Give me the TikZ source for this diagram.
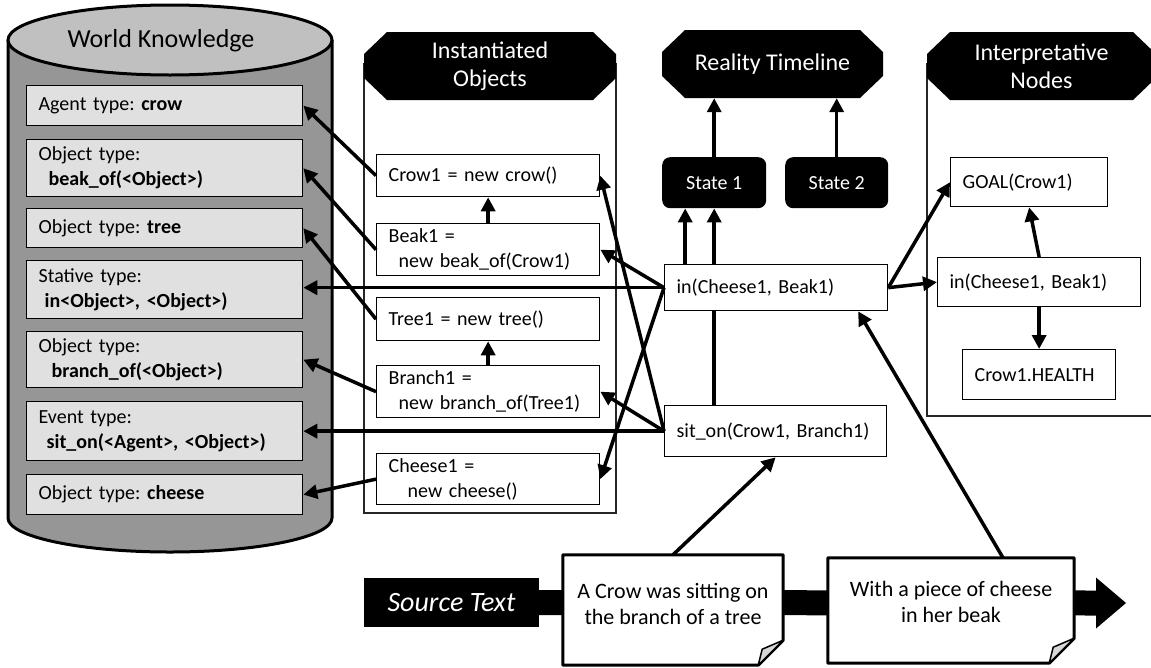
\documentclass[tikz,border=0pt]{standalone}
\usepackage{fontspec}
\setmainfont{Carlito}
\usetikzlibrary{arrows.meta,calc}

\definecolor{cylbody}{RGB}{150,150,150}
\definecolor{cyltop}{RGB}{192,192,192}
\definecolor{slot}{RGB}{224,224,224}
\definecolor{foldgray}{RGB}{215,215,215}

\begin{document}
\frenchspacing
\begin{tikzpicture}[x=1pt,y=-1pt,
  txt/.style={font=\fontsize{20}{25}\selectfont},
  basebox/.style={txt, draw, line width=1.3pt, anchor=north west,
    inner xsep=12pt, inner ysep=0pt, align=left},
  wkbox/.style={basebox, fill=slot, text width=252pt},
  ibox/.style={basebox, fill=white},
  stbox/.style={txt, fill=black, text=white, rounded corners=8pt,
    anchor=north west, minimum height=51pt, inner sep=0pt},
  hdr/.style={minimum width=#1, minimum height=68pt, inner sep=0pt,
    text=white, align=center, font=\fontsize{24}{28}\selectfont,
    path picture={
      \fill ([xshift=23pt]path picture bounding box.north west)
        -- ([xshift=-23pt]path picture bounding box.north east)
        -- ([yshift=-22pt]path picture bounding box.north east)
        -- ([yshift=22pt]path picture bounding box.south east)
        -- ([xshift=-23pt]path picture bounding box.south east)
        -- ([xshift=23pt]path picture bounding box.south west)
        -- ([yshift=22pt]path picture bounding box.south west)
        -- ([yshift=-22pt]path picture bounding box.north west) -- cycle;}},
  column/.style={draw=black!85, line width=1.3pt},
  conn/.style={line width=3.5pt, -{Triangle[length=14pt,width=14pt]}},
  notebase/.style={inner sep=0pt},
  notetext/.style={align=center, font=\fontsize{22}{26}\selectfont},
  noteline/.style={draw, fill=white, line width=3pt, line join=round},
  fold/.style={draw, fill=foldgray, line width=1.5pt, line join=round}
]
\useasboundingbox (0,0) rectangle (1151,667);
\clip (0,0) rectangle (1151,667);

% ---------- knowledge base cylinder ----------
\fill[cylbody] (8,40) -- (8,518)
  arc[start angle=180, end angle=360, x radius=162pt, y radius=34pt]
  -- (332,40) -- cycle;
\draw[line width=3pt] (8,40) -- (8,518)
  arc[start angle=180, end angle=360, x radius=162pt, y radius=34pt]
  -- (332,40);
\draw[fill=cyltop, line width=3pt] (170,40) ellipse[x radius=162pt, y radius=35pt];
\node[font=\fontsize{26}{30}\selectfont] (wktitle) at (161,41) {World Knowledge};

\node[wkbox, minimum height=40pt] (wk1) at (26,85) {Agent type: \textbf{crow}};
\node[wkbox, minimum height=57pt] (wk2) at (26,139) {Object type:\\\hspace*{10pt}\textbf{beak\_of(<Object>)}};
\node[wkbox, minimum height=39pt] (wk3) at (26,208) {Object type: \textbf{tree}};
\node[wkbox, minimum height=58pt] (wk4) at (26,260) {Stative type:\\\hspace*{6pt}\textbf{in<Object>, <Object>)}};
\node[wkbox, minimum height=56pt] (wk5) at (26,331) {Object type:\\\hspace*{13pt}\textbf{branch\_of(<Object>)}};
\node[wkbox, minimum height=59pt] (wk6) at (26,401) {Event type:\\\hspace*{8pt}\textbf{sit\_on(<Agent>, <Object>)}};
\node[wkbox, minimum height=40pt] (wk7) at (26,474) {Object type: \textbf{cheese}};

% ---------- instantiated objects ----------
\draw[column] (364,64) rectangle (616,513);
\node[hdr=252pt] (ioh) at (490,66) {Instantiated\\Objects};
\node[ibox, text width=199pt, minimum height=42pt] (crow1) at (376,154) {Crow1 = new crow()};
\node[ibox, text width=199pt, minimum height=52pt] (beak1) at (376,223) {Beak1 =\\\hspace*{10pt}new beak\_of(Crow1)};
\node[ibox, text width=199pt, minimum height=43pt] (tree1) at (376,297) {Tree1 = new tree()};
\node[ibox, text width=199pt, minimum height=52pt] (branch1) at (376,365) {Branch1 =\\\hspace*{10pt}new branch\_of(Tree1)};
\node[ibox, text width=199pt, minimum height=51pt] (cheese1) at (376,453) {Cheese1 =\\\hspace*{19pt}new cheese()};

% ---------- reality timeline ----------
\node[hdr=221pt] (rth) at (772.5,64) {Reality Timeline};
\node[stbox, minimum width=104pt] (stat1) at (662,157) {State 1};
\node[stbox, minimum width=103pt] (stat2) at (785,157) {State 2};
\node[ibox, text width=198pt, minimum height=51pt] (siton) at (664,405) {sit\_on(Crow1, Branch1)};
\draw[conn] (stat1.south |- siton.north) -- (stat1.south);
\node[ibox, text width=199pt, minimum height=46pt] (realin) at (664,264) {in(Cheese1, Beak1)};

% ---------- interpretative nodes ----------
\draw[column] (927,64) rectangle (1175,416);
\node[hdr=229pt] (inh) at (1041.5,66) {Interpretative\\Nodes};
\node[ibox, text width=133pt, minimum height=49pt] (goal) at (950,157) {GOAL(Crow1)};
\node[ibox, text width=179pt, minimum height=49pt] (interpin) at (937,257) {in(Cheese1, Beak1)};
\node[ibox, text width=129pt, minimum height=50pt] (health) at (962,349) {Crow1.HEALTH};

% ---------- links ----------
\draw[conn] (crow1.west) -- (wk1.east);
\draw[conn] (beak1.west) -- (wk2.east);
\draw[conn] (tree1.west) -- (wk3.east);
\draw[conn] (branch1.west) -- (wk5.east);
\draw[conn] (cheese1.west) -- (wk7.east);
\draw[conn] (beak1.north) -- (crow1.south);
\draw[conn] (branch1.north) -- (tree1.south);

\draw[conn] (realin.west) -- (realin.west -| wk4.east);
\draw[conn] (realin.west) -- (beak1.east);
\draw[conn] (realin.west) -- (cheese1.east);
\draw[conn] (siton.west) -- (siton.west -| wk6.east);
\draw[conn] (siton.west) -- (branch1.east);
\draw[conn] (siton.west) -- (crow1.east);

\draw[conn] (stat1.north) -- (stat1.north |- rth.south);
\draw[conn] (stat2.north) -- (stat2.north |- rth.south);
\coordinate (s1a) at ([xshift=-29pt]stat1.south);
\draw[conn] (s1a |- realin.north) -- (s1a);

\draw[conn] (realin.east) -- (goal.west);
\draw[conn] (realin.east) -- (interpin.west);
\draw[conn] (interpin.north) -- (goal.south);
\draw[conn] (interpin.south) -- (health.north);

% ---------- source text band ----------
\node[fill=black, text=white, minimum width=175pt, minimum height=49pt, inner sep=0pt,
  font=\fontsize{28}{32}\selectfont\itshape] (src) at (451.5,602.5) {Source Text};
\coordinate (tip) at (1126,603);
\fill ([yshift=12.5pt]src.east) -- ([xshift=-30pt,yshift=12.5pt]tip)
  -- ([xshift=-30pt,yshift=25.5pt]tip) -- (tip)
  -- ([xshift=-30pt,yshift=-25.5pt]tip) -- ([xshift=-30pt,yshift=-12.5pt]tip)
  -- ([yshift=-12.5pt]src.east) -- cycle;

\node[notebase, minimum width=220pt, minimum height=110pt] (n1) at (673,610) {};
\draw[noteline] (n1.north west) -- (n1.north east) -- ([yshift=25pt]n1.south east)
  -- ([xshift=-25pt]n1.south east) -- (n1.south west) -- cycle;
\draw[fold] ([yshift=25pt]n1.south east) -- ([xshift=-21pt,yshift=16pt]n1.south east)
  -- ([xshift=-25pt]n1.south east) -- cycle;
\node[notetext] (n1t) at ([yshift=6pt]n1.center) {A Crow was sitting on\\the branch of a tree};

\node[notebase, minimum width=246pt, minimum height=105pt] (n2) at (951,610.5) {};
\draw[noteline] (n2.north west) -- (n2.north east) -- ([yshift=25pt]n2.south east)
  -- ([xshift=-25pt]n2.south east) -- (n2.south west) -- cycle;
\draw[fold] ([yshift=25pt]n2.south east) -- ([xshift=-21pt,yshift=16pt]n2.south east)
  -- ([xshift=-25pt]n2.south east) -- cycle;
\node[notetext] (n2t) at ([yshift=9pt]n2.center) {With a piece of cheese\\in her beak};

\draw[conn] (n1.north) -- (siton.south);
\draw[conn] ([xshift=52pt]n2.north) -- ([xshift=82pt]realin.south);
\end{tikzpicture}
\end{document}
